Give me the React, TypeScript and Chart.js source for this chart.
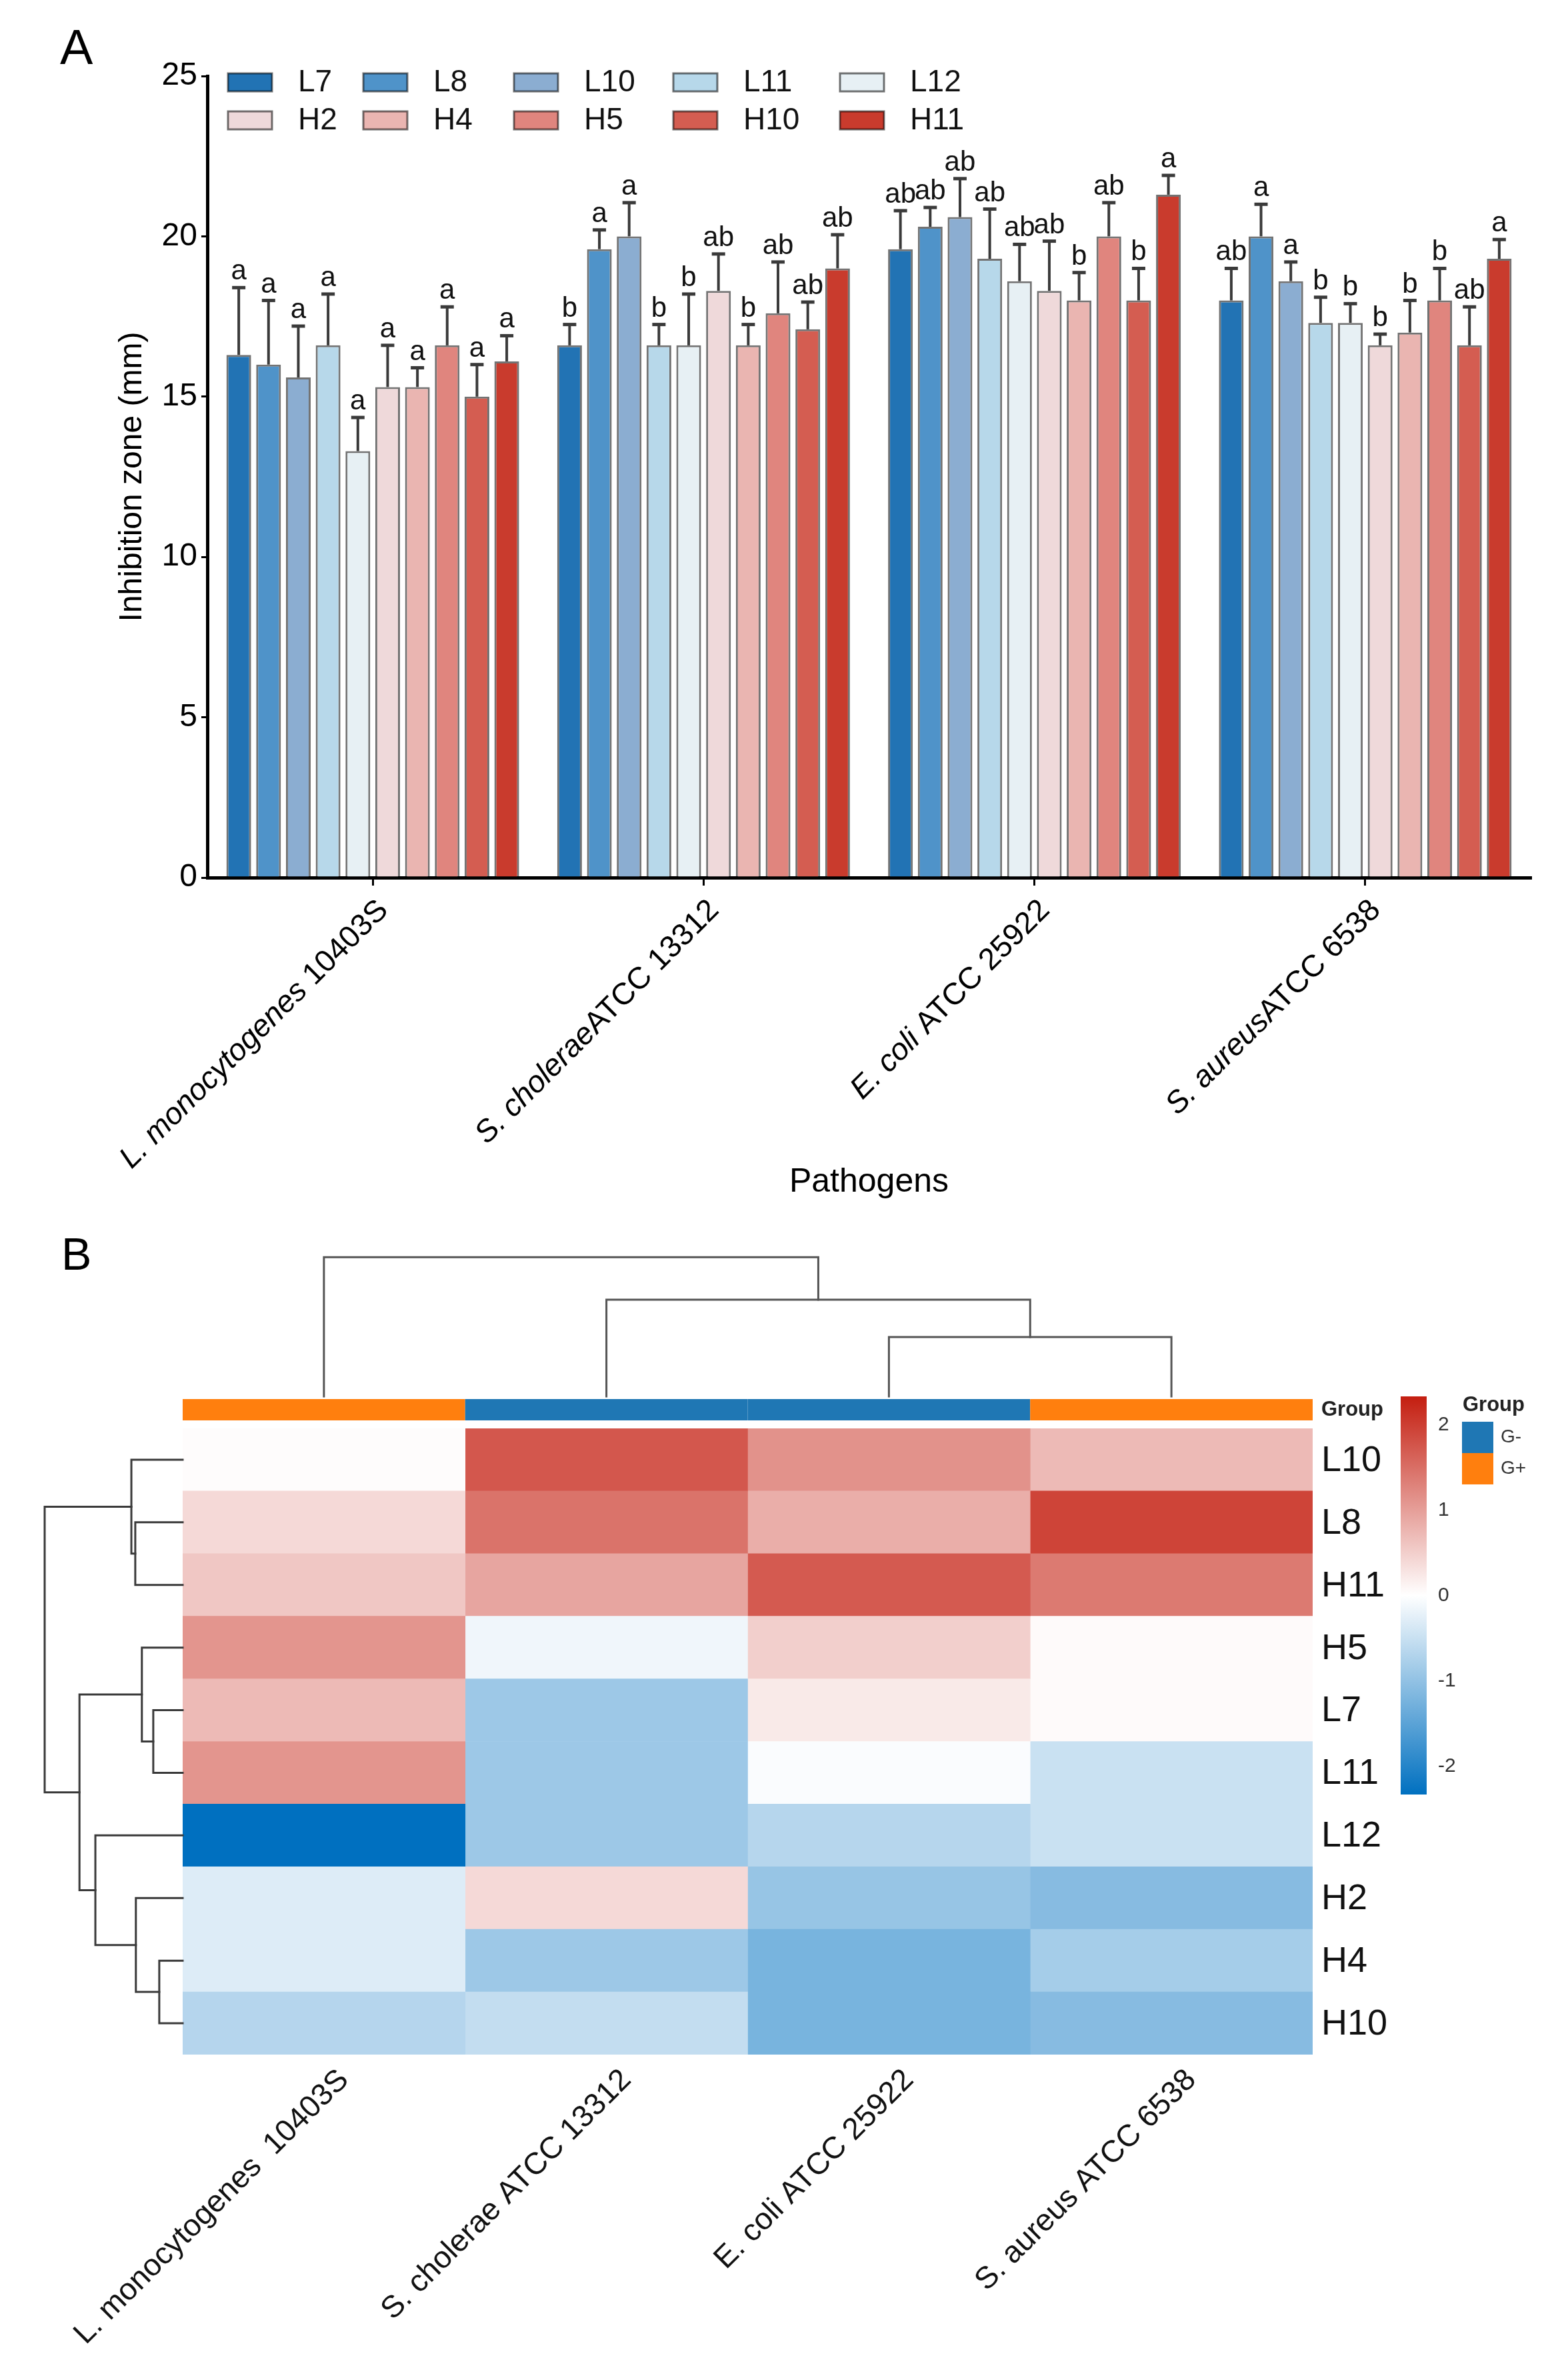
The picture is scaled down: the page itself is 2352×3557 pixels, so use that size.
import React, { useEffect, useRef } from 'react';
import { Chart, registerables } from 'chart.js';
Chart.register(...registerables);

const FONT = '"Liberation Sans", Arial, Helvetica, sans-serif';

// ---------- Panel A data ----------
const pathogens = ['L. monocytogenes 10403S', 'S. choleraeATCC 13312', 'E. coli ATCC 25922', 'S. aureusATCC 6538'];
const pathogenSpecies = ['L. monocytogenes ', 'S. cholerae', 'E. coli ', 'S. aureus'];
const pathogenStrain = ['10403S', 'ATCC 13312', 'ATCC 25922', 'ATCC 6538'];

const strains = ['L7', 'L8', 'L10', 'L11', 'L12', 'H2', 'H4', 'H5', 'H10', 'H11'];
const strainColors = ['#2273B4', '#4F93C9', '#8BADD1', '#B7D8EA', '#E7F0F4', '#EFD9DA', '#EAB5B1', '#E0857E', '#D45D51', '#C93B2D'];

const meanL7 = [16.3, 16.6, 19.6, 18.0];
const meanL8 = [16.0, 19.6, 20.3, 20.0];
const meanL10 = [15.6, 20.0, 20.6, 18.6];
const meanL11 = [16.6, 16.6, 19.3, 17.3];
const meanL12 = [13.3, 16.6, 18.6, 17.3];
const meanH2 = [15.3, 18.3, 18.3, 16.6];
const meanH4 = [15.3, 16.6, 18.0, 17.0];
const meanH5 = [16.6, 17.6, 20.0, 18.0];
const meanH10 = [15.0, 17.1, 18.0, 16.6];
const meanH11 = [16.1, 19.0, 21.3, 19.3];

const sdL7 = [2.1, 0.65, 1.2, 1.0];
const sdL8 = [2.0, 0.6, 0.6, 1.0];
const sdL10 = [1.6, 1.05, 1.2, 0.6];
const sdL11 = [1.6, 0.65, 1.55, 0.8];
const sdL12 = [1.05, 1.6, 1.15, 0.6];
const sdH2 = [1.3, 1.15, 1.55, 0.35];
const sdH4 = [0.6, 0.65, 0.87, 1.0];
const sdH5 = [1.2, 1.6, 1.05, 1.0];
const sdH10 = [1.0, 0.85, 1.0, 1.2];
const sdH11 = [0.8, 1.05, 0.6, 0.6];

const sigL7 = ['a', 'b', 'ab', 'ab'];
const sigL8 = ['a', 'a', 'ab', 'a'];
const sigL10 = ['a', 'a', 'ab', 'a'];
const sigL11 = ['a', 'b', 'ab', 'b'];
const sigL12 = ['a', 'b', 'ab', 'b'];
const sigH2 = ['a', 'ab', 'ab', 'b'];
const sigH4 = ['a', 'b', 'b', 'b'];
const sigH5 = ['a', 'ab', 'ab', 'b'];
const sigH10 = ['a', 'ab', 'b', 'ab'];
const sigH11 = ['a', 'ab', 'a', 'a'];

const yTicks = [0, 5, 10, 15, 20, 25];

const means = [meanL7, meanL8, meanL10, meanL11, meanL12, meanH2, meanH4, meanH5, meanH10, meanH11];
const sds = [sdL7, sdL8, sdL10, sdL11, sdL12, sdH2, sdH4, sdH5, sdH10, sdH11];
const sigs = [sigL7, sigL8, sigL10, sigL11, sigL12, sigH2, sigH4, sigH5, sigH10, sigH11];

// ---------- Panel B data ----------
const heatRows = ['L10', 'L8', 'H11', 'H5', 'L7', 'L11', 'L12', 'H2', 'H4', 'H10'];
const heatCols = ['L. monocytogenes  10403S', 'S. cholerae ATCC 13312', 'E. coli ATCC 25922', 'S. aureus ATCC 6538'];
const colGroups = ['G+', 'G-', 'G-', 'G+'];
const zLmono = [0.03, 0.39, 0.58, 1.1, 0.71, 1.1, -2.33, -0.31, -0.31, -0.68];
const zScholerae = [1.74, 1.45, 0.93, -0.14, -0.9, -0.9, -0.9, 0.39, -0.9, -0.55];
const zEcoli = [1.13, 0.84, 1.71, 0.5, 0.22, -0.05, -0.67, -0.95, -1.23, -1.23];
const zSaureus = [0.71, 1.94, 1.38, 0.05, 0.05, -0.49, -0.49, -1.1, -0.82, -1.1];
const zCols = [zLmono, zScholerae, zEcoli, zSaureus];
const colorbarTicks = [2, 1, 0, -1, -2];
const groupNames = ['G-', 'G+'];
const groupColors = ['#1F77B4', '#FF7F0E'];

// hclust-style merges: negative = leaf (1-based), positive = earlier merge (1-based)
const rowMerge = [[-2, -3], [-1, 1], [-5, -6], [-4, 3], [-9, -10], [-8, 5], [-7, 6], [4, 7], [2, 8]];
const rowHeight = [1.58, 1.71, 0.98, 1.36, 0.78, 1.56, 2.91, 3.44, 4.6];
const colMerge = [[-3, -4], [-2, 1], [-1, 2]];
const colHeight = [1.98, 3.22, 4.64];

const ZMAX = 2.33;
const LOW = [0, 112, 192];
const HIGH = [196, 30, 16];
function zColor(z: number) {
  const t = Math.min(1, Math.abs(z) / ZMAX);
  const c = z < 0 ? LOW : HIGH;
  const r = Math.round(255 + (c[0] - 255) * t);
  const g = Math.round(255 + (c[1] - 255) * t);
  const b = Math.round(255 + (c[2] - 255) * t);
  return `rgb(${r},${g},${b})`;
}

const W = 2352;
const HA = 1830;
const HB = 3557 - HA;

export default function App() {
  const refA = useRef<HTMLCanvasElement>(null);
  const refB = useRef<HTMLCanvasElement>(null);

  useEffect(() => {
    // ---------------- Panel A ----------------
    const errPlugin = {
      id: 'errbars',
      afterDatasetsDraw(chart: any) {
        const ctx = chart.ctx;
        const ys = chart.scales.y;
        ctx.save();
        chart.data.datasets.forEach((ds: any, i: number) => {
          const meta = chart.getDatasetMeta(i);
          meta.data.forEach((el: any, j: number) => {
            const x = el.x;
            const yb = el.y;
            const top = ys.getPixelForValue(ds.data[j] + sds[i][j]);
            ctx.strokeStyle = '#3a3a3a';
            ctx.lineWidth = 4;
            ctx.beginPath();
            ctx.moveTo(x, yb);
            ctx.lineTo(x, top);
            ctx.stroke();
            ctx.lineWidth = 5;
            ctx.beginPath();
            ctx.moveTo(x - 10, top);
            ctx.lineTo(x + 10, top);
            ctx.stroke();
            ctx.fillStyle = '#111';
            ctx.font = `42px ${FONT}`;
            ctx.textAlign = 'center';
            ctx.textBaseline = 'alphabetic';
            ctx.fillText(sigs[i][j], x, top - 12);
          });
        });
        ctx.restore();
      },
      afterDraw(chart: any) {
        const ctx = chart.ctx;
        const xs = chart.scales.x;
        const ca = chart.chartArea;
        ctx.save();
        ctx.fillStyle = '#000';
        // x tick labels (mixed italic)
        pathogenSpecies.forEach((sp, i) => {
          const x = xs.getPixelForTick(i) + 16;
          const y = ca.bottom + 42;
          ctx.save();
          ctx.translate(x, y);
          ctx.rotate(-Math.PI / 4);
          ctx.textAlign = 'right';
          ctx.textBaseline = 'middle';
          ctx.font = `46px ${FONT}`;
          const w = ctx.measureText(pathogenStrain[i]).width;
          ctx.fillText(pathogenStrain[i], 0, 0);
          ctx.font = `italic 46px ${FONT}`;
          ctx.fillText(sp, -w, 0);
          ctx.restore();
        });
        // x title
        ctx.font = `50px ${FONT}`;
        ctx.textAlign = 'center';
        ctx.textBaseline = 'middle';
        ctx.fillText('Pathogens', (ca.left + ca.right) / 2, 1773);
        // y title
        ctx.save();
        ctx.translate(199, (ca.top + ca.bottom) / 2);
        ctx.rotate(-Math.PI / 2);
        ctx.font = `48px ${FONT}`;
        ctx.textAlign = 'center';
        ctx.textBaseline = 'middle';
        ctx.fillText('Inhibition zone (mm)', 0, 0);
        ctx.restore();
        // legend (2 rows x 5 columns)
        const colX = [342, 545, 771, 1010, 1260];
        const rowY = [123, 180];
        strains.forEach((s, i) => {
          const r = Math.floor(i / 5);
          const c = i % 5;
          const bx = colX[c];
          const by = rowY[r];
          ctx.fillStyle = strainColors[i];
          ctx.fillRect(bx, by - 13, 66, 27);
          ctx.strokeStyle = 'rgba(0,0,0,0.55)';
          ctx.lineWidth = 3;
          ctx.strokeRect(bx, by - 13, 66, 27);
          ctx.fillStyle = '#111';
          ctx.font = `46px ${FONT}`;
          ctx.textAlign = 'left';
          ctx.textBaseline = 'middle';
          ctx.fillText(s, bx + 105, by + 1);
        });
        // panel letter
        ctx.fillStyle = '#000';
        ctx.font = `74px ${FONT}`;
        ctx.textAlign = 'left';
        ctx.textBaseline = 'alphabetic';
        ctx.fillText('A', 90, 96);
        ctx.restore();
      },
    };

    const chartA = new Chart(refA.current as HTMLCanvasElement, {
      type: 'bar',
      data: {
        labels: pathogens,
        datasets: strains.map((s, i) => ({
          label: s,
          data: means[i],
          backgroundColor: strainColors[i],
          borderColor: 'rgba(0,0,0,0.55)',
          borderWidth: 3,
          categoryPercentage: 0.9,
          barPercentage: 0.83,
        })),
      },
      options: {
        responsive: false,
        animation: false,
        devicePixelRatio: 1,
        layout: { padding: { top: 114, right: 56, left: 0, bottom: 0 } },
        plugins: { legend: { display: false }, tooltip: { enabled: false }, title: { display: false } },
        scales: {
          x: {
            offset: true,
            grid: { display: true, drawOnChartArea: false, drawTicks: true, tickLength: 12, offset: false, color: '#000', lineWidth: 3 },
            border: { display: true, color: '#000', width: 5 },
            ticks: { display: false },
            afterFit: (s: any) => { s.height = HA - 1316; },
          },
          y: {
            min: yTicks[0],
            max: yTicks[yTicks.length - 1],
            afterBuildTicks: (s: any) => { s.ticks = yTicks.map((v) => ({ value: v })); },
            ticks: { font: { family: FONT, size: 48 }, color: '#000', padding: 6 },
            grid: { display: true, drawOnChartArea: false, drawTicks: true, tickLength: 9, color: '#000', lineWidth: 3 },
            border: { display: true, color: '#000', width: 5 },
            afterFit: (s: any) => { s.width = 311; },
          },
        },
      } as any,
      plugins: [errPlugin],
    });

    // ---------------- Panel B ----------------
    const heatPlugin = {
      id: 'heatdeco',
      afterDraw(chart: any) {
        const ctx = chart.ctx;
        const xs = chart.scales.x;
        const ys = chart.scales.y;
        const ca = chart.chartArea;
        const PX = 45;
        ctx.save();

        // group annotation bar
        const gTop = ca.top - 44;
        const gH = 32;
        colGroups.forEach((g, ci) => {
          const x0 = xs.getPixelForValue(ci);
          const x1 = xs.getPixelForValue(ci + 1);
          ctx.fillStyle = groupColors[groupNames.indexOf(g)];
          ctx.fillRect(x0, gTop, x1 - x0, gH);
        });
        ctx.fillStyle = '#222';
        ctx.font = `bold 31px ${FONT}`;
        ctx.textAlign = 'left';
        ctx.textBaseline = 'middle';
        ctx.fillText('Group', ca.right + 13, gTop + gH / 2);

        // row labels
        ctx.fillStyle = '#111';
        ctx.font = `54px ${FONT}`;
        heatRows.forEach((r, ri) => {
          ctx.fillText(r, ca.right + 13, ys.getPixelForValue(ri) + 2);
        });

        // column labels
        heatCols.forEach((c, ci) => {
          const x = xs.getPixelForValue(ci + 0.5) + 30;
          const y = ca.bottom + 31;
          ctx.save();
          ctx.translate(x, y);
          ctx.rotate(-Math.PI / 4);
          ctx.textAlign = 'right';
          ctx.textBaseline = 'middle';
          ctx.font = `46px ${FONT}`;
          ctx.fillStyle = '#111';
          ctx.fillText(c, 0, 0);
          ctx.restore();
        });

        // row dendrogram
        const rowPos: { p: number; h: number }[] = [];
        const rowLeaf = (k: number) => (k < 0 ? { p: ys.getPixelForValue(-k - 1), h: 0 } : rowPos[k - 1]);
        ctx.strokeStyle = '#3a3a3a';
        ctx.lineWidth = 3;
        ctx.lineCap = 'square';
        rowMerge.forEach((m, i) => {
          const a = rowLeaf(m[0]);
          const b = rowLeaf(m[1]);
          const h = rowHeight[i];
          const xm = ca.left - h * PX;
          ctx.beginPath();
          ctx.moveTo(ca.left - a.h * PX, a.p);
          ctx.lineTo(xm, a.p);
          ctx.lineTo(xm, b.p);
          ctx.lineTo(ca.left - b.h * PX, b.p);
          ctx.stroke();
          rowPos.push({ p: (a.p + b.p) / 2, h });
        });

        // column dendrogram
        const base = gTop - 4;
        const colPos: { p: number; h: number }[] = [];
        const colLeaf = (k: number) => (k < 0 ? { p: xs.getPixelForValue(-k - 1 + 0.5), h: 0 } : colPos[k - 1]);
        ctx.strokeStyle = '#555';
        colMerge.forEach((m, i) => {
          const a = colLeaf(m[0]);
          const b = colLeaf(m[1]);
          const h = colHeight[i];
          const ym = base - h * PX;
          ctx.beginPath();
          ctx.moveTo(a.p, base - a.h * PX);
          ctx.lineTo(a.p, ym);
          ctx.lineTo(b.p, ym);
          ctx.lineTo(b.p, base - b.h * PX);
          ctx.stroke();
          colPos.push({ p: (a.p + b.p) / 2, h });
        });

        // colour bar
        const cbX = 2101;
        const cbW = 39;
        const cbTop = base;
        const cbBot = base + 597;
        const grad = ctx.createLinearGradient(0, cbTop, 0, cbBot);
        grad.addColorStop(0, zColor(ZMAX));
        grad.addColorStop(0.5, zColor(0));
        grad.addColorStop(1, zColor(-ZMAX));
        ctx.fillStyle = grad;
        ctx.fillRect(cbX, cbTop, cbW, cbBot - cbTop);
        const mid = (cbTop + cbBot) / 2;
        const per = (cbBot - cbTop) / (2 * ZMAX);
        ctx.fillStyle = '#333';
        ctx.font = `30px ${FONT}`;
        ctx.textAlign = 'left';
        ctx.textBaseline = 'middle';
        colorbarTicks.forEach((t) => {
          ctx.fillText(String(t), cbX + 56, mid - t * per);
        });

        // group legend
        ctx.fillStyle = '#222';
        ctx.font = `bold 31px ${FONT}`;
        ctx.fillText('Group', 2194, gTop + 9);
        groupNames.forEach((g, gi) => {
          const by = gTop + 34 + gi * 47;
          ctx.fillStyle = groupColors[gi];
          ctx.fillRect(2193, by, 47, 47);
          ctx.fillStyle = '#333';
          ctx.font = `28px ${FONT}`;
          ctx.fillText(g, 2251, by + 23);
        });

        // panel letter
        ctx.fillStyle = '#000';
        ctx.font = `68px ${FONT}`;
        ctx.textAlign = 'left';
        ctx.textBaseline = 'alphabetic';
        ctx.fillText('B', 92, 74);
        ctx.restore();
      },
    };

    const chartB = new Chart(refB.current as HTMLCanvasElement, {
      type: 'bar',
      data: {
        labels: heatRows,
        datasets: heatCols.map((c, ci) => ({
          label: c,
          data: heatRows.map(() => [ci, ci + 1]),
          backgroundColor: zCols[ci].map((z) => zColor(z)),
          borderWidth: 0,
          grouped: false,
          barPercentage: 1,
          categoryPercentage: 1,
        })),
      },
      options: {
        indexAxis: 'y',
        responsive: false,
        animation: false,
        devicePixelRatio: 1,
        layout: { padding: { left: 274, right: W - 1969, top: 2142 - HA, bottom: HB - (3081 - HA) } },
        plugins: { legend: { display: false }, tooltip: { enabled: false } },
        scales: {
          x: { type: 'linear', min: 0, max: heatCols.length, display: false },
          y: { type: 'category', display: false, offset: true },
        },
      } as any,
      plugins: [heatPlugin],
    });

    return () => {
      chartA.destroy();
      chartB.destroy();
    };
  }, []);

  return (
    <div style={{ position: 'absolute', left: 0, top: 0, width: W, height: 3557, background: '#fff' }}>
      <canvas ref={refA} width={W} height={HA} style={{ position: 'absolute', left: 0, top: 0, width: W, height: HA }} />
      <canvas ref={refB} width={W} height={HB} style={{ position: 'absolute', left: 0, top: HA, width: W, height: HB }} />
    </div>
  );
}
